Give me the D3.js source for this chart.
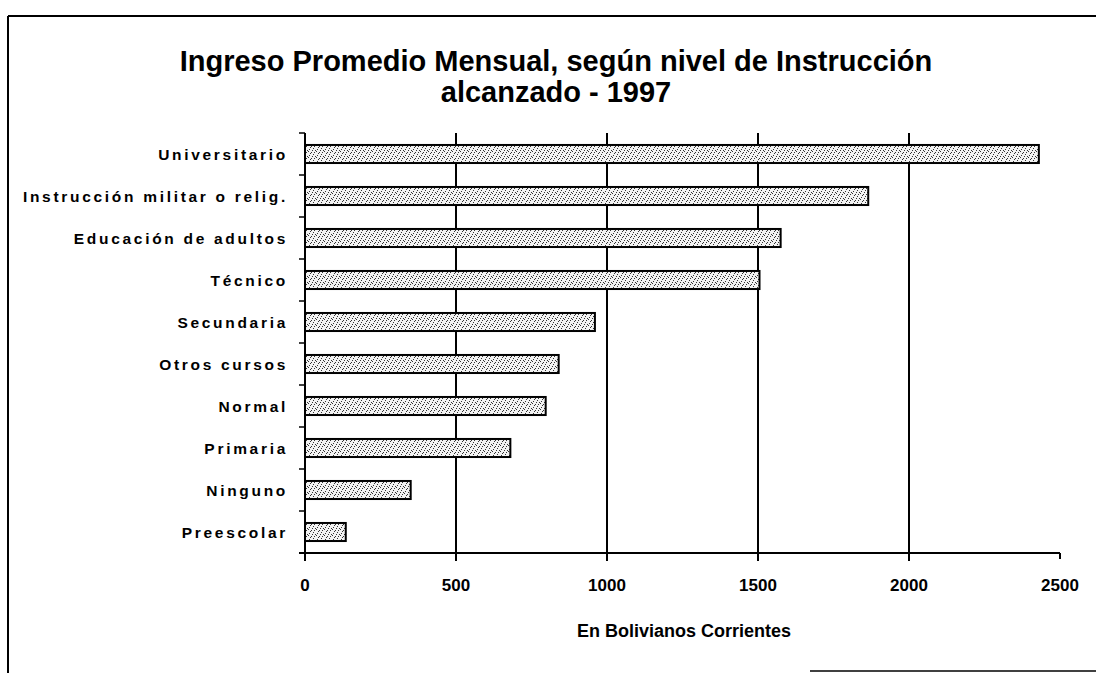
<!DOCTYPE html>
<html>
<head>
<meta charset="utf-8">
<script src="https://cdn.jsdelivr.net/npm/d3@7"></script>
<style>
  html, body { margin: 0; padding: 0; background: #fff; }
  svg { display: block; }
</style>
</head>
<body>
<svg id="chart" width="1096" height="673"></svg>
<script>
// ---- data ----
const categories = [
  "Universitario",
  "Instrucción militar o relig.",
  "Educación de adultos",
  "Técnico",
  "Secundaria",
  "Otros cursos",
  "Normal",
  "Primaria",
  "Ninguno",
  "Preescolar"
];
const values = [2430, 1865, 1575, 1505, 960, 840, 797, 680, 350, 135];
const xTicks = [0, 500, 1000, 1500, 2000, 2500];
const titleLines = ["Ingreso Promedio Mensual, según nivel de Instrucción", "alcanzado - 1997"];
const xAxisTitle = "En Bolivianos Corrientes";

// ---- layout ----
const W = 1096, H = 673;
const plot = { left: 305, right: 1060, top: 133, bottom: 553 };
const svg = d3.select("#chart");

// stipple pattern
const defs = svg.append("defs");
const pat = defs.append("pattern")
  .attr("id", "stipple").attr("patternUnits", "userSpaceOnUse")
  .attr("width", 8).attr("height", 6);
pat.append("rect").attr("width", 8).attr("height", 6).attr("fill", "#f2f2f2");
[[0,0],[4,1],[2,2],[6,3],[1,4],[5,5],[3,0],[7,2]].forEach(([a,b]) => {
  pat.append("rect").attr("x", a).attr("y", b).attr("width", 1).attr("height", 1)
    .attr("fill", "#333");
});

const x = d3.scaleLinear().domain([0, 2500]).range([plot.left, plot.right]);
const y = d3.scaleBand().domain(categories).range([plot.top, plot.bottom])
  .paddingInner(0.57).paddingOuter(0.285);

// frame
svg.append("line").attr("x1", 8).attr("x2", W).attr("y1", 16).attr("y2", 16)
  .attr("stroke", "#000").attr("stroke-width", 2);
svg.append("line").attr("x1", 8).attr("x2", 8).attr("y1", 16).attr("y2", H)
  .attr("stroke", "#000").attr("stroke-width", 2);
svg.append("line").attr("x1", 810).attr("x2", W).attr("y1", 671).attr("y2", 671)
  .attr("stroke", "#000").attr("stroke-width", 1.5);

// title
svg.append("g").selectAll("text").data(titleLines).join("text")
  .attr("x", 556).attr("y", (d, i) => 71 + i * 31)
  .attr("text-anchor", "middle")
  .attr("font-family", "Liberation Sans, Arial, sans-serif")
  .attr("font-weight", "bold").attr("font-size", 29)
  .attr("fill", "#000")
  .text(d => d);

// gridlines
const grid = svg.append("g");
grid.selectAll("line").data(xTicks.filter(t => t > 0 && t < 2500)).join("line")
  .attr("x1", d => x(d)).attr("x2", d => x(d))
  .attr("y1", plot.top).attr("y2", plot.bottom)
  .attr("stroke", "#000").attr("stroke-width", 2);

// bars
svg.append("g").selectAll("rect").data(categories).join("rect")
  .attr("x", x(0))
  .attr("y", d => y(d))
  .attr("width", (d, i) => x(values[i]) - x(0))
  .attr("height", y.bandwidth())
  .attr("fill", "url(#stipple)")
  .attr("stroke", "#000").attr("stroke-width", 2);

// y axis
const yAxisG = svg.append("g");
yAxisG.append("line").attr("x1", x(0)).attr("x2", x(0))
  .attr("y1", plot.top).attr("y2", plot.bottom + 8)
  .attr("stroke", "#000").attr("stroke-width", 2);
const bounds = d3.range(categories.length + 1).map(i => plot.top + i * y.step());
yAxisG.selectAll(".yt").data(bounds).join("line")
  .attr("x1", x(0) - 6).attr("x2", x(0))
  .attr("y1", d => d).attr("y2", d => d)
  .attr("stroke", "#000").attr("stroke-width", 1.5);
yAxisG.selectAll("text").data(categories).join("text")
  .attr("x", 288)
  .attr("y", d => y(d) + y.bandwidth() / 2)
  .attr("dy", "0.36em")
  .attr("text-anchor", "end")
  .attr("font-family", "Liberation Sans, Arial, sans-serif")
  .attr("font-size", 15.5)
  .attr("font-weight", "bold")
  .attr("letter-spacing", 2.7)
  .attr("fill", "#000")
  .text(d => d);

// x axis
const xAxisG = svg.append("g");
xAxisG.append("line").attr("x1", x(0) - 6).attr("x2", x(2500))
  .attr("y1", plot.bottom).attr("y2", plot.bottom)
  .attr("stroke", "#000").attr("stroke-width", 2);
xAxisG.selectAll(".xt").data(xTicks).join("line")
  .attr("x1", d => x(d)).attr("x2", d => x(d))
  .attr("y1", plot.bottom).attr("y2", d => plot.bottom + (d === 2500 ? 6 : 8))
  .attr("stroke", "#000").attr("stroke-width", 2);
xAxisG.selectAll("text").data(xTicks).join("text")
  .attr("x", d => x(d))
  .attr("y", 591)
  .attr("text-anchor", "middle")
  .attr("font-family", "Liberation Sans, Arial, sans-serif")
  .attr("font-size", 17).attr("font-weight", "bold")
  .attr("fill", "#000")
  .text(d => d);

svg.append("text")
  .attr("x", 684).attr("y", 637)
  .attr("text-anchor", "middle")
  .attr("font-family", "Liberation Sans, Arial, sans-serif")
  .attr("font-size", 18).attr("font-weight", "bold")
  .attr("fill", "#000")
  .text(xAxisTitle);
</script>
</body>
</html>
